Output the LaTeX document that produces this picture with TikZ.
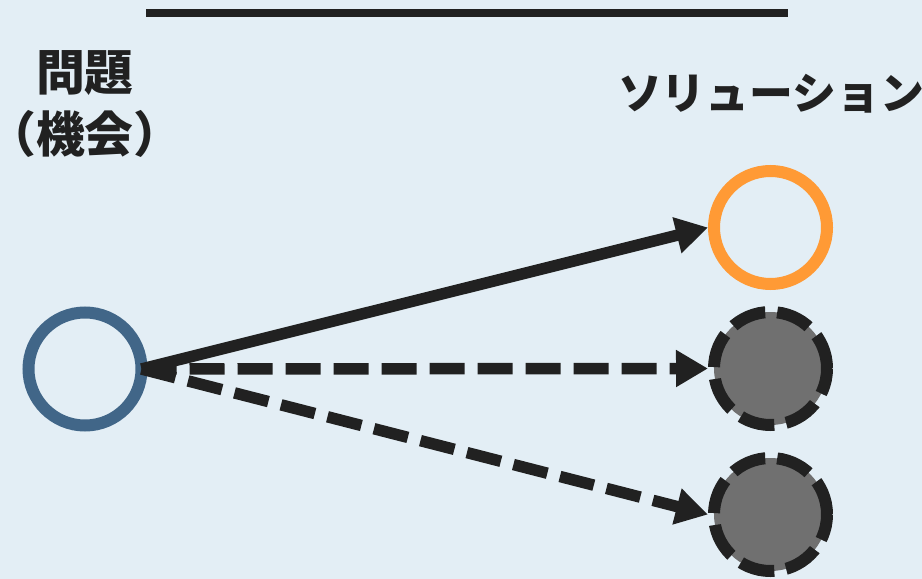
\documentclass[tikz,border=0pt]{standalone}
\usepackage{fontspec}
\newfontfamily\jp{Noto Sans CJK JP}
\usetikzlibrary{arrows.meta}
\definecolor{bgc}{RGB}{227,238,245}
\definecolor{inkc}{RGB}{33,33,33}
\definecolor{bluec}{RGB}{65,102,136}
\definecolor{orangec}{RGB}{255,154,53}
\definecolor{grayc}{RGB}{112,112,112}
\tikzset{
  ring/.style={circle, line width=12bp, minimum size=113bp, inner sep=0pt},
  ghost/.style={ring, fill=grayc, draw=inkc, dash pattern=on 35bp off 12bp},
  link/.style={draw=inkc, line width=11.5bp, -{Triangle[length=32bp,width=35bp]}},
  dlink/.style={link, dash pattern=on 35bp off 13bp},
  lab/.style={font=\jp\bfseries, text=inkc, align=center, inner sep=0pt}
}
\begin{document}
\begin{tikzpicture}[x=1bp,y=-1bp]
\fill[bgc] (0,0) rectangle (922,579);
\useasboundingbox (0,0) rectangle (922,579);
\draw[inkc, line width=8bp] (146,13) -- (788,13);
\node[ring, draw=bluec, outer sep=0pt] (p) at (85,369) {};
\node[ring, draw=orangec] (o) at (770.5,227.5) {};
\node[ghost] (g1) at (770.5,368.5) {};
\node[ghost] (g2) at (770.5,514.5) {};
\node[lab, font=\jp\bfseries\fontsize{49}{62}\selectfont] (t1) at (85,104) {問題\\（機会）};
\node[lab, font=\jp\bfseries\fontsize{44}{50}\selectfont] (t2) at (771,94) {ソリューション};
\draw[link] (p.east) -- (o.west);
\draw[dlink] (p.east) -- (g1.west);
\draw[dlink] (p.east) -- (g2.west);
\end{tikzpicture}
\end{document}
